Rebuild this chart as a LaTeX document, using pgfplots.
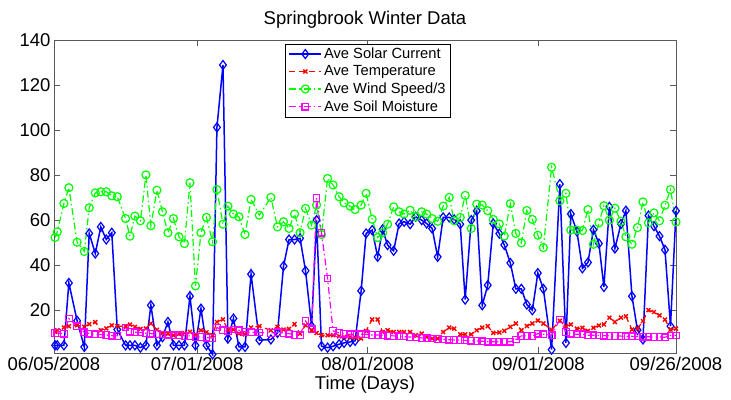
\documentclass[border=0pt]{standalone}
\usepackage{fontspec}
\setmainfont{Liberation Sans}
\usepackage{pgfplots}
\usepackage{pgfplotstable}
\pgfplotsset{compat=1.18}
\definecolor{mblue}{RGB}{0,0,255}
\definecolor{mred}{RGB}{255,0,0}
\definecolor{mgreen}{RGB}{0,255,0}
\definecolor{mmag}{RGB}{255,0,255}

% day (0 = 06/05/2008), solar, temperature, wind/3, soil moisture
\pgfplotstableread{
d solar temp wind soil
0.2 4.4 10.4 52.3 9.9
0.6 4.4 11.1 54.8 9.9
1.8 4.4 12.3 67.4 9.6
2.7 32.1 12.9 74.4 16.3
4.2 15.3 13.3 50.2 12.9
5.5 3.7 12.6 46.1 10.2
6.4 54.1 13.8 65.5 9.6
7.5 45.2 14.7 72.1 9.3
8.5 57.0 11.1 72.6 9.2
9.5 51.4 11.9 72.6 9.0
10.5 54.4 13.3 70.8 8.7
11.5 11.4 12.9 70.4 8.6
13.0 4.4 12.9 60.7 12.3
13.8 4.4 13.6 52.9 10.5
14.7 4.4 12.6 61.8 10.2
15.7 3.4 11.7 59.7 10.1
16.7 4.4 11.9 80.1 9.8
17.6 22.2 14.1 57.5 9.6
18.7 4.4 11.3 73.3 9.4
19.7 8.0 9.9 63.7 9.2
20.7 14.8 9.6 54.4 9.1
21.7 4.4 8.9 60.7 8.9
22.7 4.4 9.6 52.6 8.9
23.7 4.4 9.9 49.6 8.6
24.7 26.2 10.4 76.6 8.6
25.7 4.4 9.3 30.8 8.1
26.7 20.7 11.1 54.4 8.1
27.7 4.4 10.2 61.2 7.8
28.8 0.4 8.9 50.4 7.6
29.6 101.2 14.8 73.6 12.3
30.7 128.9 15.9 58.2 11.1
31.6 7.4 11.1 66.2 10.8
32.6 16.3 11.4 62.7 11.4
33.6 3.7 9.6 61.5 11.1
34.7 3.7 9.3 53.6 10.4
35.8 36.0 12.3 69.2 10.2
37.3 6.7 12.9 62.2 10.1
39.4 7.0 11.1 70.1 9.9
40.6 9.9 12.6 57.0 10.2
41.7 39.6 11.4 59.3 9.9
42.7 51.4 11.7 56.3 9.6
43.7 51.4 13.8 62.7 9.0
44.7 51.9 9.6 54.4 8.9
45.7 37.5 13.3 65.2 15.2
46.8 12.9 11.1 57.8 11.5
47.7 60.0 9.9 66.7 69.8
48.6 4.0 8.9 53.6 54.4
49.7 3.4 8.9 78.5 34.1
50.7 4.0 8.9 75.6 10.8
51.8 4.9 8.4 70.4 9.9
52.7 5.5 8.1 67.7 9.6
53.8 5.9 8.1 66.2 9.3
54.7 6.4 7.9 64.7 9.3
55.8 28.6 7.4 66.7 9.3
56.7 54.1 10.8 71.9 9.3
57.8 55.6 15.9 60.4 9.0
58.8 43.7 15.9 52.3 9.0
59.7 55.9 10.3 54.4 8.9
60.6 48.9 11.1 58.2 8.7
61.7 46.4 10.3 65.9 8.6
62.7 58.5 10.3 63.7 8.4
63.6 59.3 10.3 62.7 8.3
64.7 58.2 10.3 64.4 8.1
65.7 61.5 8.9 61.5 7.9
66.8 60.0 9.6 63.7 7.7
67.7 58.5 8.1 62.7 7.5
68.7 56.3 7.4 60.7 7.4
69.7 43.7 7.4 59.5 7.2
70.7 61.2 10.3 66.2 7.0
71.8 61.2 12.3 70.1 6.9
72.7 60.3 11.8 59.7 6.8
73.8 58.2 9.3 61.2 6.7
74.7 24.7 9.3 71.0 6.6
75.8 60.0 9.3 56.3 6.5
76.8 64.1 11.1 67.1 6.3
77.8 22.2 12.3 66.7 6.2
78.8 31.1 12.9 64.2 6.0
79.8 58.5 9.9 60.3 6.0
80.9 54.0 10.1 58.3 6.0
81.8 49.0 10.8 52.9 6.0
82.9 41.0 12.6 67.3 6.0
83.9 29.5 14.1 54.1 7.0
84.9 29.5 11.1 49.9 8.6
85.9 22.5 13.0 64.3 8.6
86.9 20.0 14.1 60.3 8.6
87.9 36.5 15.4 53.3 9.6
88.9 29.5 14.1 47.8 9.3
90.4 2.5 11.3 83.5 8.9
91.9 76.0 15.3 68.6 15.9
93.0 5.5 12.8 71.9 10.4
93.9 62.7 13.7 55.6 9.6
95.0 55.0 11.8 55.6 9.3
96.0 38.6 12.2 55.4 9.3
97.0 41.2 10.8 64.7 8.9
98.0 55.7 12.2 49.3 8.9
99.0 49.6 13.2 58.8 8.8
99.9 30.3 13.7 66.4 8.7
100.9 65.9 16.7 60.0 8.6
101.9 47.4 14.8 65.3 8.6
103.0 58.3 16.7 59.5 8.5
103.9 64.2 17.3 52.6 8.4
105.0 26.2 11.4 49.3 8.4
106.0 11.2 11.8 56.7 8.3
107.0 7.0 15.2 68.1 8.2
108.0 62.0 20.0 58.8 8.2
109.0 57.3 19.2 63.2 8.1
110.0 52.9 17.7 59.7 8.1
111.0 46.8 15.8 66.6 8.0
112.0 12.9 11.4 73.6 8.8
113.0 64.1 11.8 59.2 8.8
}\springdata

\begin{document}
\begin{tikzpicture}
\begin{axis}[
    scale only axis,
    width=622pt, height=313pt,
    xmin=0, xmax=113,
    ymin=1, ymax=140,
    xtick={0,26,57,88,113},
    xticklabels={06/05/2008,07/01/2008,08/01/2008,09/01/2008,09/26/2008},
    ytick={20,40,...,140},
    tick align=inside,
    major tick length=6pt,
    axis line style={black!65, line width=0.8pt},
    tick style={black!65, line width=0.8pt},
    font=\fontsize{18.5}{22}\selectfont,
    /pgf/number format/assume math mode=true,
    xticklabel style={yshift=-1pt},
    title={Springbrook Winter Data},
    title style={yshift=2pt},
    xlabel={Time (Days)},
    xlabel style={yshift=2pt},
    clip=false,
    legend cell align=left,
    legend style={at={(0.372,0.988)}, anchor=north west,
        font=\fontsize{14.7}{17}\selectfont,
        draw=black, inner xsep=3pt, inner ysep=2pt, row sep=1.6pt},
    legend image code/.code={
        \draw[mark repeat=2,mark phase=2] plot coordinates {(0pt,0pt) (16pt,0pt) (32pt,0pt)};},
]
\addplot[mblue, line width=1.5pt, mark=diamond, mark size=4.5pt,
    mark options={solid, line width=1.2pt}] table[x=d, y=solar] {\springdata};
\addlegendentry{Ave Solar Current}
\addplot[mred, line width=1.2pt, dash pattern=on 6pt off 4pt, mark=x, mark size=2.8pt,
    mark options={solid, line width=1.4pt}] table[x=d, y=temp] {\springdata};
\addlegendentry{Ave Temperature}
\addplot[mgreen, line width=1.2pt, dash pattern=on 7pt off 3pt on 1.5pt off 3pt, mark=o, mark size=4pt,
    mark options={solid, line width=1.2pt}] table[x=d, y=wind] {\springdata};
\addlegendentry{Ave Wind Speed/3}
\addplot[mmag, line width=1.2pt, dash pattern=on 7pt off 3pt on 1.5pt off 3pt, mark=square, mark size=3.3pt,
    mark options={solid, line width=1.2pt}] table[x=d, y=soil] {\springdata};
\addlegendentry{Ave Soil Moisture}
\end{axis}
\pgfresetboundingbox
\path[use as bounding box] (-54pt,-46pt) rectangle (677pt,353pt);
\end{tikzpicture}
\end{document}
